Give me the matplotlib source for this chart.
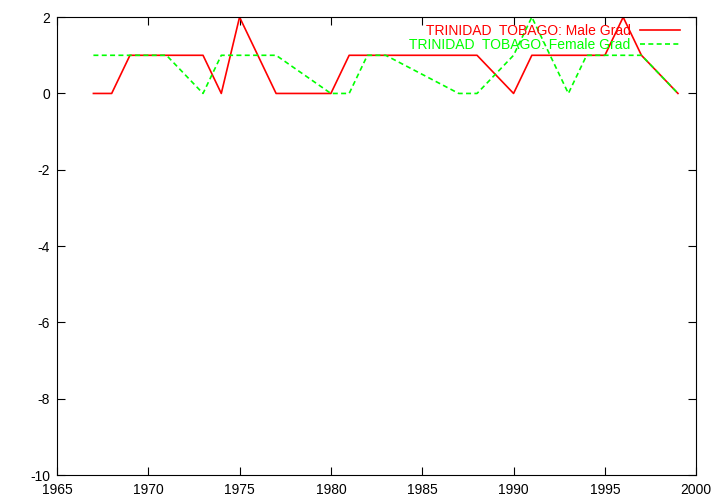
import matplotlib
matplotlib.use('Agg')
from matplotlib import rcParams
rcParams['font.family'] = 'sans-serif'
rcParams['font.sans-serif'] = ['Liberation Sans', 'DejaVu Sans']
rcParams['axes.unicode_minus'] = False
import matplotlib.pyplot as plt

male_years = [1967, 1968, 1969, 1970, 1971, 1972, 1973, 1974, 1975, 1976, 1977, 1978, 1979,
              1980, 1981, 1982, 1983, 1984, 1985, 1986, 1987, 1988, 1990, 1991, 1992, 1993,
              1994, 1995, 1996, 1997, 1999]
male_grad = [0, 0, 1, 1, 1, 1, 1, 0, 2, 1, 0, 0, 0,
             0, 1, 1, 1, 1, 1, 1, 1, 1, 0, 1, 1, 1,
             1, 1, 2, 1, 0]

female_years = [1967, 1968, 1969, 1970, 1971, 1973, 1974, 1975, 1976, 1977, 1980, 1981, 1982,
                1983, 1987, 1988, 1990, 1991, 1992, 1993, 1994, 1995, 1996, 1997, 1999]
female_grad = [1, 1, 1, 1, 1, 0, 1, 1, 1, 1, 0, 0, 1,
               1, 0, 0, 1, 2, 1, 0, 1, 1, 1, 1, 0]

fig = plt.figure(figsize=(7.2, 5.04), dpi=100)
ax = fig.add_axes([0.079, 0.0575, 0.888, 0.9085])

ax.plot(male_years, male_grad, color='#ff0000', linewidth=1.2,
        label='TRINIDAD  TOBAGO: Male Grad')
ax.plot(female_years, female_grad, color='#00ff00', linewidth=1.2, dashes=(3, 2),
        label='TRINIDAD  TOBAGO: Female Grad')

ax.set_xlim(1965, 2000)
ax.set_ylim(-10, 2)
ax.set_xticks(range(1965, 2001, 5))
ax.set_yticks(range(-10, 3, 2))
ax.tick_params(direction='in', top=True, right=True, length=6, labelsize=10)
ax.tick_params(axis='x', pad=6)
ax.tick_params(axis='y', pad=5)
for s in ax.spines.values():
    s.set_linewidth(0.8)

leg = ax.legend(loc='upper right', frameon=False, markerfirst=False, handlelength=2.9,
                labelcolor='linecolor', fontsize=10, borderaxespad=0, borderpad=0,
                bbox_to_anchor=(680 / 720, 1 - 24 / 504), bbox_transform=fig.transFigure,
                labelspacing=0.0, handletextpad=0.65)
for t in leg.get_texts():
    t.set_ha('right')
leg._legend_box.align = 'right'

fig.savefig('out.png', dpi=100)
